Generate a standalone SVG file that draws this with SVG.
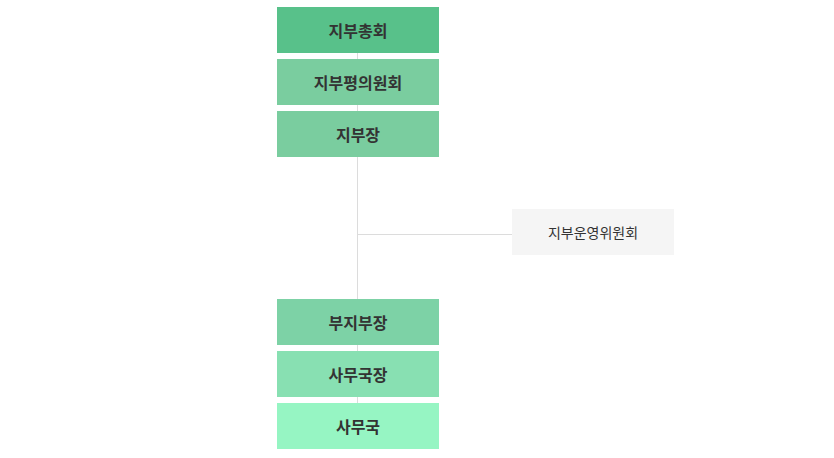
<svg xmlns="http://www.w3.org/2000/svg" width="834" height="458" viewBox="0 0 834 458">
<style>
.t{font-family:"Noto Sans CJK KR",sans-serif;font-size:16px;font-weight:bold;fill:#333;text-anchor:middle;dominant-baseline:central}
.s{font-family:"Noto Sans CJK KR",sans-serif;font-size:14px;fill:#333;text-anchor:middle;dominant-baseline:central}
</style>
<rect width="834" height="458" fill="#fff"/>
<g id="connectors" stroke="#dcdcdc" stroke-width="1" fill="none">
<line x1="357.5" y1="53" x2="357.5" y2="403"/>
<line x1="357" y1="234.5" x2="512" y2="234.5"/>
</g>
<g id="n1"><rect x="277" y="7" width="162" height="46" fill="#58c18a"/><text class="t" x="358" y="30">지부총회</text></g>
<g id="n2"><rect x="277" y="59" width="162" height="46" fill="#7acd9f"/><text class="t" x="358" y="82">지부평의원회</text></g>
<g id="n3"><rect x="277" y="111" width="162" height="46" fill="#7acd9f"/><text class="t" x="358" y="134">지부장</text></g>
<g id="n4"><rect x="512" y="209" width="162" height="46" fill="#f5f5f5"/><text class="s" x="593" y="232">지부운영위원회</text></g>
<g id="n5"><rect x="277" y="299" width="162" height="46" fill="#7dd2a6"/><text class="t" x="358" y="322">부지부장</text></g>
<g id="n6"><rect x="277" y="351" width="162" height="46" fill="#88e0b2"/><text class="t" x="358" y="374">사무국장</text></g>
<g id="n7"><rect x="277" y="403" width="162" height="46" fill="#96f5c3"/><text class="t" x="358" y="426">사무국</text></g>
</svg>
